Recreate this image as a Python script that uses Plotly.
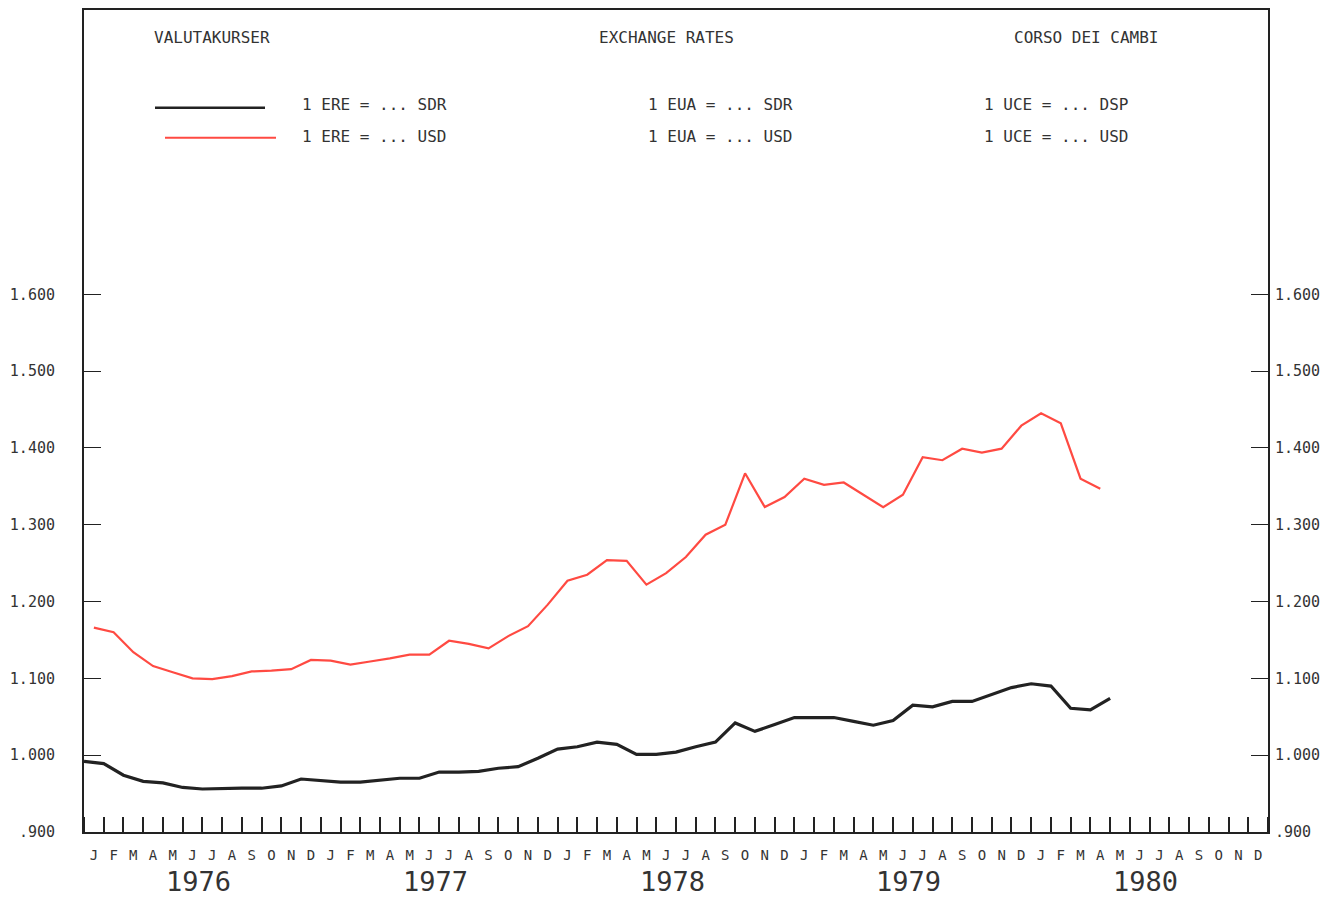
import plotly.graph_objects as go

# monthly values, Jan 1976 onward
sdr = [0.992, 0.989, 0.974, 0.966, 0.964, 0.958, 0.956, 0.957, 0.957, 0.957,
       0.960, 0.969, 0.967, 0.965, 0.965, 0.968, 0.970, 0.970, 0.978, 0.978,
       0.979, 0.983, 0.985, 0.996, 1.008, 1.011, 1.017, 1.014, 1.001, 1.001,
       1.004, 1.011, 1.017, 1.042, 1.031, 1.040, 1.049, 1.049, 1.049, 1.044,
       1.039, 1.045, 1.065, 1.063, 1.070, 1.070, 1.079, 1.088, 1.093, 1.090,
       1.061, 1.059, 1.074]
usd = [1.166, 1.160, 1.134, 1.116, 1.108, 1.100, 1.099, 1.103, 1.109, 1.110,
       1.112, 1.124, 1.123, 1.118, 1.122, 1.126, 1.131, 1.131, 1.149, 1.145,
       1.139, 1.155, 1.168, 1.196, 1.227, 1.235, 1.254, 1.253, 1.222, 1.237,
       1.258, 1.287, 1.300, 1.367, 1.323, 1.336, 1.360, 1.352, 1.355, 1.339,
       1.323, 1.339, 1.388, 1.384, 1.399, 1.394, 1.399, 1.429, 1.445, 1.432,
       1.360, 1.347]

months = ["J", "F", "M", "A", "M", "J", "J", "A", "S", "O", "N", "D"] * 5
years = ["1976", "1977", "1978", "1979", "1980"]
ytick_vals = [0.9, 1.0, 1.1, 1.2, 1.3, 1.4, 1.5, 1.6]
ytick_text = [".900", "1.000", "1.100", "1.200", "1.300", "1.400", "1.500", "1.600"]

titles = ["VALUTAKURSER", "EXCHANGE RATES", "CORSO DEI CAMBI"]
legend_sdr = ["1 ERE = ... SDR", "1 EUA = ... SDR", "1 UCE = ... DSP"]
legend_usd = ["1 ERE = ... USD", "1 EUA = ... USD", "1 UCE = ... USD"]

BLACK = "#222222"
RED = "#ff4a42"
FONT = "DejaVu Sans Mono"

# page has an 8px body margin, so work in page pixels minus 8
OFF = 8
W, H = 1328 - 2 * OFF, 905 - 2 * OFF
L, R, T, B = 84 - OFF, 1268 - OFF, 8 - OFF, 832 - OFF


def px(x):
    return (x - OFF - L) / (R - L)


def py(y):
    return (B - (y - OFF)) / (B - T)


fig = go.Figure()
fig.add_trace(go.Scatter(x=list(range(len(sdr))), y=sdr, mode="lines",
                         line=dict(color=BLACK, width=3.2), showlegend=False))
fig.add_trace(go.Scatter(x=[i + 0.5 for i in range(len(usd))], y=usd, mode="lines",
                         line=dict(color=RED, width=2.2), showlegend=False, yaxis="y2"))

yr = [0.9, 0.9 + (B - T) / 770]

fig.update_layout(
    width=W, height=H,
    margin=dict(l=L, r=W - R, t=T, b=H - B),
    paper_bgcolor="white", plot_bgcolor="white",
    font=dict(family=FONT, color=BLACK),
    xaxis=dict(range=[0, 60], showgrid=False, zeroline=False,
               showline=True, linecolor=BLACK, linewidth=2, mirror=True,
               tickmode="array", tickvals=[i + 0.5 for i in range(60)], ticktext=months,
               ticks="", ticklabelstandoff=9, tickfont=dict(size=14, color="#333"),
               minor=dict(tickmode="linear", tick0=0, dtick=1, ticks="inside",
                          ticklen=15, tickwidth=1.5, tickcolor=BLACK, showgrid=False)),
    yaxis=dict(range=yr, showgrid=False, zeroline=False,
               showline=True, linecolor=BLACK, linewidth=2,
               tickmode="array", tickvals=ytick_vals, ticktext=ytick_text,
               ticks="inside", ticklen=17, tickwidth=1.2, tickcolor=BLACK,
               ticklabelstandoff=24, tickfont=dict(size=15, color="#333")),
    yaxis2=dict(range=yr, overlaying="y", side="right", showgrid=False, zeroline=False,
                showline=True, linecolor=BLACK, linewidth=2,
                tickmode="array", tickvals=ytick_vals, ticktext=ytick_text,
                ticks="inside", ticklen=17, tickwidth=1.2, tickcolor=BLACK,
                ticklabelstandoff=2, tickfont=dict(size=15, color="#333")),
)

ann = []
for i, yl in enumerate(years):
    ann.append(dict(x=6 + 12 * i - 0.2, y=py(882), xref="x", yref="paper", text=yl,
                    showarrow=False, font=dict(size=27, color="#333"),
                    xanchor="center", yanchor="middle"))

col_title = [152, 597, 1012]
col_text = [300, 646, 982]
for i in range(3):
    ann.append(dict(x=px(col_title[i]), y=py(36), xref="paper", yref="paper",
                    text=titles[i], showarrow=False, xanchor="left", yanchor="middle",
                    font=dict(size=16, color="#333")))
    ann.append(dict(x=px(col_text[i]), y=py(103), xref="paper", yref="paper",
                    text=legend_sdr[i], showarrow=False, xanchor="left", yanchor="middle",
                    font=dict(size=16, color="#333")))
    ann.append(dict(x=px(col_text[i]), y=py(135), xref="paper", yref="paper",
                    text=legend_usd[i], showarrow=False, xanchor="left", yanchor="middle",
                    font=dict(size=16, color="#333")))
fig.update_layout(annotations=ann)

fig.add_shape(type="line", xref="paper", yref="paper", x0=px(155), x1=px(265),
              y0=py(106), y1=py(106), line=dict(color=BLACK, width=2.5))
fig.add_shape(type="line", xref="paper", yref="paper", x0=px(165), x1=px(276),
              y0=py(136), y1=py(136), line=dict(color=RED, width=2))

fig.write_html("out.html")
